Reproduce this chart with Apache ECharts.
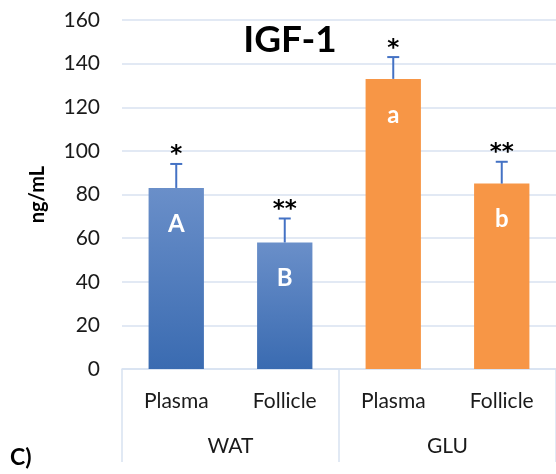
<!DOCTYPE html>
<html>
<head>
<meta charset="utf-8">
<script src="https://cdn.jsdelivr.net/npm/echarts@6/dist/echarts.min.js"></script>
<style>
  html, body { margin: 0; padding: 0; background: #fff; }
  #chart { width: 556px; height: 474px; }
</style>
</head>
<body>
<div id="chart"></div>
<script>
// IGF-1 concentration by sample type and diet group
const sampleTypes = ['Plasma', 'Follicle', 'Plasma', 'Follicle'];
const groups = ['WAT', 'GLU'];
const means = [83, 58, 133, 85];
const upperErr = [94, 69, 143, 95];
const letters = ['A', 'B', 'a', 'b'];
const stars = ['*', '**', '*', '**'];
const yTicks = { min: 0, max: 160, interval: 20 };

const FONT = 'Lato, "Open Sans", sans-serif';
const STAR_FONT = '"DejaVu Sans", sans-serif';
const GRID_COLOR = '#d8e2f1';
const ERR_COLOR = '#4472c4';

const blueFill = new echarts.graphic.LinearGradient(0, 0, 0, 1, [
  { offset: 0, color: '#6a8fc9' },
  { offset: 1, color: '#3a6bb1' }
]);
const orangeFill = '#f79646';

const chart = echarts.init(document.getElementById('chart'), null, { renderer: 'canvas' });

const barData = means.map((v, i) => ({
  value: v,
  itemStyle: { color: groups[Math.floor(i / 2)] === 'WAT' ? blueFill : orangeFill }
}));

const errData = means.map((v, i) => [i, v, upperErr[i]]);

chart.setOption({
  animation: false,
  title: {
    text: 'IGF-1',
    left: 285,
    textAlign: 'center',
    top: 17,
    textStyle: { fontFamily: FONT, fontWeight: 'bold', fontSize: 37, color: '#000' }
  },
  grid: { left: 122, right: -3, top: 20, bottom: 105 },
  xAxis: [
    {
      type: 'category',
      data: sampleTypes,
      axisLine: { lineStyle: { color: GRID_COLOR, width: 1.5 } },
      axisTick: { show: false },
      axisLabel: { margin: 22, fontFamily: FONT, fontSize: 21, color: '#1a1a1a' }
    },
    {
      type: 'category',
      data: groups,
      position: 'bottom',
      axisLine: { show: false },
      axisTick: { show: true, length: 93, lineStyle: { color: GRID_COLOR, width: 1.5 } },
      axisLabel: { margin: 67, fontFamily: FONT, fontSize: 21, color: '#1a1a1a' }
    }
  ],
  yAxis: {
    type: 'value',
    min: yTicks.min,
    max: yTicks.max,
    interval: yTicks.interval,
    name: 'ng/mL',
    nameLocation: 'middle',
    nameRotate: 90,
    nameGap: 74,
    nameTextStyle: { fontFamily: FONT, fontWeight: 'bold', fontSize: 20, color: '#000' },
    axisLine: { show: false },
    axisTick: { show: false },
    axisLabel: { margin: 22, fontFamily: FONT, fontSize: 21, color: '#1a1a1a' },
    splitLine: { lineStyle: { color: GRID_COLOR, width: 1.5 } }
  },
  series: [
    {
      type: 'bar',
      xAxisIndex: 0,
      data: barData,
      barWidth: '51%',
      label: {
        show: true,
        position: 'insideTop',
        distance: 24,
        formatter: p => letters[p.dataIndex],
        fontFamily: FONT,
        fontWeight: 'bold',
        fontSize: 24,
        color: '#fff'
      },
      z: 2
    },
    {
      type: 'custom',
      xAxisIndex: 0,
      data: errData,
      z: 3,
      renderItem: (params, api) => {
        const idx = api.value(0);
        const base = api.coord([idx, api.value(1)]);
        const top = api.coord([idx, api.value(2)]);
        const cap = 6;
        return {
          type: 'group',
          children: [
            {
              type: 'line',
              shape: { x1: base[0], y1: base[1], x2: top[0], y2: top[1] },
              style: { stroke: ERR_COLOR, lineWidth: 2 }
            },
            {
              type: 'line',
              shape: { x1: top[0] - cap, y1: top[1], x2: top[0] + cap, y2: top[1] },
              style: { stroke: ERR_COLOR, lineWidth: 2 }
            },
            {
              type: 'text',
              x: top[0],
              y: top[1] + 3,
              style: {
                text: stars[params.dataIndex],
                fontFamily: STAR_FONT,
                fontWeight: 'bold',
                fontSize: 23,
                fill: '#000',
                align: 'center',
                verticalAlign: 'bottom'
              }
            }
          ]
        };
      }
    }
  ],
  graphic: [
    {
      type: 'text',
      left: 10,
      top: 446,
      style: { text: 'C)', fontFamily: FONT, fontWeight: 'bold', fontSize: 23, fill: '#000' }
    }
  ]
});
</script>
</body>
</html>
